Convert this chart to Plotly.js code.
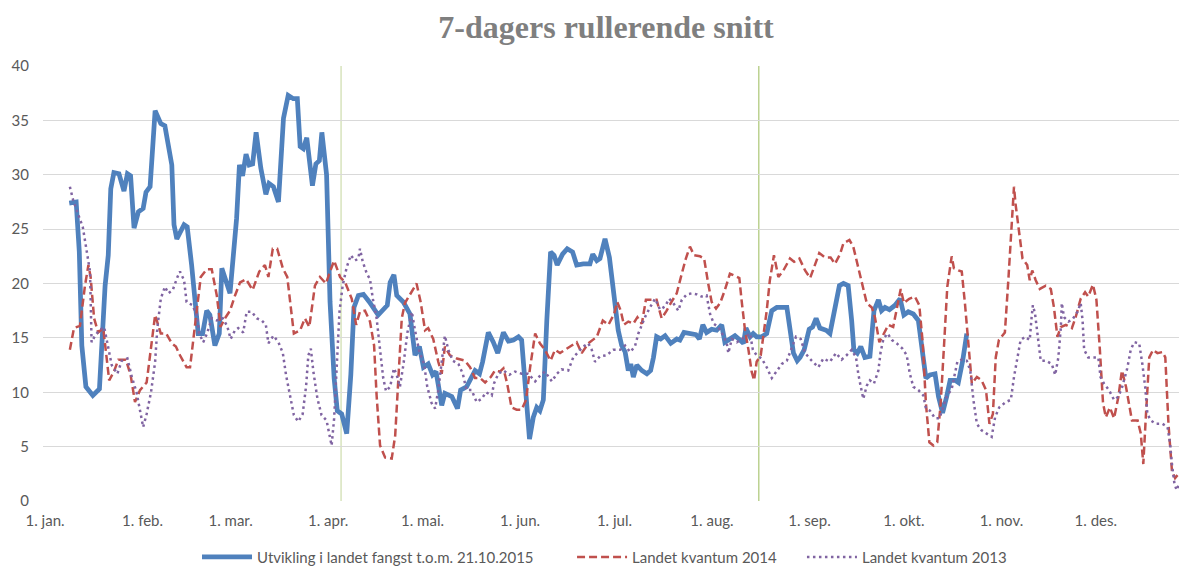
<!DOCTYPE html>
<html>
<head>
<meta charset="utf-8">
<script src="https://cdn.plot.ly/plotly-3.0.1.min.js"></script>
<style>html,body{margin:0;padding:0;background:#fff;}#chart{width:1179px;height:568px;}</style>
</head>
<body>
<div id="chart"></div>
<script>
// x values are day-of-year (0 = 1. jan.)
const monthTickDays = [0,31,59,90,120,151,181,212,243,273,304,334];
const monthTickLabels = ["1. jan.","1. feb.","1. mar.","1. apr.","1. mai.","1. jun.","1. jul.","1. aug.","1. sep.","1. okt.","1. nov.","1. des."];
const markerDays = [94.1, 226.9];
const seriesNames = ["Utvikling i landet fangst t.o.m. 21.10.2015","Landet kvantum 2014","Landet kvantum 2013"];

const days2015 = [7.7,9.9,10.9,11.7,13.0,15.2,17.3,19.1,20.1,20.9,21.9,23.5,25.1,26.2,27.2,28.3,29.7,31.2,32.1,33.4,35.0,36.8,38.1,40.3,41.0,41.9,44.2,45.2,46.6,48.7,50.1,51.4,52.4,54.0,55.4,56.2,58.8,60.9,61.8,62.8,63.9,64.9,66.0,67.1,68.6,70.2,71.2,72.6,74.2,75.8,77.3,78.9,80.2,81.1,82.1,83.2,85.0,86.1,87.2,88.0,89.5,90.6,91.9,92.9,94.3,95.9,97.2,98.2,99.6,101.2,103.1,105.9,108.8,109.7,110.9,111.8,113.9,116.0,117.6,119.0,120.3,121.8,123.2,124.3,126.1,127.1,129.3,131.1,132.1,134.0,136.7,138.1,139.1,140.9,142.5,143.9,145.7,147.3,148.9,150.5,151.5,152.6,154.0,155.2,156.3,157.3,158.4,159.5,160.7,161.8,162.8,164.5,166.0,167.7,169.0,171.1,173.2,174.1,175.4,176.4,178.0,179.4,180.6,182.2,183.3,184.4,185.4,186.2,187.0,188.1,189.7,191.3,192.5,193.4,194.4,195.7,197.1,198.9,200.8,201.8,203.1,205.0,206.9,208.0,209.1,210.3,211.9,213.5,215.1,216.1,217.7,219.3,220.9,222.0,222.8,224.1,225.1,226.2,227.8,229.4,231.0,232.6,235.8,237.9,239.1,240.0,241.3,242.9,244.0,245.1,246.3,248.3,249.5,251.1,252.5,253.8,255.3,256.4,257.1,258.2,259.3,260.6,262.2,263.5,264.9,265.9,267.0,268.4,270.2,271.8,273.0,274.4,276.0,277.6,278.7,280.0,281.3,282.9,284.0,285.3,286.6,287.7,289.3,290.3,291.7,293.0];
const values2015 = [27.4,27.5,22.9,14.3,10.5,9.7,10.3,19.8,22.6,28.7,30.2,30.1,28.5,30.1,29.9,25.1,26.6,26.9,28.4,28.9,35.9,34.7,34.5,30.9,25.4,24.1,25.4,25.2,21.7,15.4,15.4,17.5,17.1,14.3,15.4,21.4,19.1,26.0,30.9,29.9,31.9,30.9,31.0,33.9,30.6,28.2,29.2,28.9,27.5,35.2,37.3,37.0,37.0,32.6,32.4,33.4,29.0,31.0,31.3,33.9,30.0,18.3,11.3,8.3,8.0,6.2,11.6,17.8,18.9,19.0,18.3,17.1,18.0,20.1,20.8,18.9,18.3,17.2,13.4,14.2,12.3,12.6,11.6,11.9,8.8,9.9,9.6,8.5,10.2,10.5,12.0,11.7,12.8,15.5,14.6,13.6,15.5,14.7,14.8,15.1,14.8,10.5,5.7,7.7,8.6,8.3,9.3,16.6,22.9,22.6,21.7,22.7,23.2,22.9,21.7,21.8,21.8,22.7,22.1,22.3,24.1,22.4,19.1,15.7,14.3,13.7,12.0,12.6,11.4,12.5,12.0,11.7,12.0,13.2,15.1,14.9,15.2,14.5,14.9,14.8,15.5,15.4,15.3,14.9,16.2,15.5,15.8,15.7,16.2,14.6,14.9,15.2,14.8,14.5,15.9,15.1,15.4,15.1,15.1,15.4,17.5,17.8,17.8,13.6,12.9,13.2,13.9,15.8,16.0,16.8,15.9,15.7,15.4,17.5,19.8,20.0,19.8,16.6,13.9,13.6,14.2,13.2,13.3,17.5,18.5,17.5,17.8,17.6,18.0,18.6,17.1,17.4,17.2,16.6,14.5,11.3,11.6,11.7,9.6,8.1,9.6,11.1,11.1,10.9,12.9,15.4];

const days2014 = [7.9,9.2,11.1,12.7,13.8,14.5,15.6,16.9,18.5,20.4,21.9,23.3,25.7,27.2,28.6,30.2,32.3,35.0,36.8,38.5,40.3,41.6,42.9,45.0,46.1,47.7,49.5,51.4,53.0,54.6,55.8,57.2,58.8,60.4,62.0,63.9,66.0,68.1,69.9,71.0,72.4,73.8,75.6,77.0,78.4,79.1,81.1,82.6,84.0,85.8,87.4,89.3,90.6,91.9,93.8,95.4,97.5,98.9,100.1,101.7,103.3,104.6,105.4,106.5,108.1,110.2,111.3,112.3,113.4,114.4,116.6,118.1,119.4,120.8,121.8,123.4,125.0,126.1,127.1,128.7,130.9,133.5,135.1,136.7,138.3,139.9,141.7,143.0,144.6,145.7,146.9,148.3,149.9,151.5,152.9,154.2,155.8,157.3,158.9,160.7,162.1,163.7,165.8,169.0,170.6,172.7,175.4,177.3,179.1,180.9,181.9,183.0,184.0,185.4,187.0,188.3,189.7,191.0,192.8,194.4,196.0,197.6,198.9,200.8,202.4,203.7,205.0,206.3,208.2,209.5,210.8,211.9,213.3,214.6,216.1,217.7,219.3,220.7,221.4,222.5,223.6,224.6,225.4,226.2,227.5,228.5,229.4,230.4,231.7,233.1,234.7,236.8,238.1,239.8,241.6,243.2,244.4,246.1,247.9,249.7,251.1,252.7,253.8,255.7,256.9,258.5,259.9,261.2,262.8,263.8,265.2,266.7,268.1,269.6,270.7,272.0,273.0,274.7,276.5,277.9,279.0,280.0,281.1,282.4,283.6,284.7,285.8,286.8,288.2,288.9,290.3,291.4,292.4,293.5,294.6,296.2,297.7,299.1,300.2,301.3,302.2,303.2,305.1,306.2,307.5,308.0,308.5,309.6,310.7,312.2,313.0,313.8,314.9,316.2,318.1,319.7,320.7,321.8,322.9,324.5,326.4,327.6,329.2,330.6,331.6,333.1,334.2,335.3,336.3,337.2,338.5,339.8,341.2,342.3,343.6,345.5,347.3,348.3,349.1,349.9,351.0,352.2,353.6,355.2,356.1,357.1,358.2,359.2,360.3];
const values2014 = [13.9,15.9,16.1,19.8,21.7,20.6,16.8,15.5,15.9,11.1,11.9,13.0,13.0,11.6,9.1,10.2,10.9,17.1,15.4,15.4,14.5,14.2,13.4,12.3,12.3,16.2,20.6,21.3,21.3,18.9,16.0,16.8,17.5,18.9,20.1,20.4,19.4,21.1,21.7,20.6,23.2,23.2,21.4,20.6,16.8,15.4,15.7,16.8,16.0,19.8,20.6,20.0,21.1,22.1,20.6,20.1,18.6,16.2,17.4,17.5,16.5,14.3,9.7,5.1,4.0,3.9,6.0,11.3,16.8,18.2,19.2,20.0,18.3,15.7,15.9,14.9,12.8,11.7,14.2,13.4,13.1,12.9,12.3,11.3,11.3,10.9,11.4,12.0,11.9,12.2,10.8,8.6,8.4,8.4,9.3,12.3,15.4,14.5,13.9,12.9,13.9,13.6,14.0,14.6,13.6,14.5,15.1,16.6,16.2,17.2,18.3,17.5,16.2,16.5,16.3,16.9,16.3,18.5,18.5,18.5,16.8,17.5,18.2,19.1,20.9,22.3,23.4,22.6,22.5,22.3,20.0,18.3,17.7,18.2,19.4,20.9,20.7,20.5,18.5,15.7,13.9,11.9,11.1,12.8,13.4,15.4,17.5,20.3,22.6,20.6,21.2,22.3,22.0,22.3,21.2,20.5,21.5,22.8,22.4,22.4,21.8,22.7,23.7,24.0,23.4,21.5,19.8,18.2,17.8,16.9,14.6,15.4,16.2,16.0,17.5,19.5,18.2,18.6,18.8,18.0,14.5,9.0,5.4,5.1,5.4,9.0,14.5,19.7,22.5,21.4,21.2,21.1,18.2,14.5,10.8,11.4,11.1,10.2,7.1,8.0,13.2,14.8,15.5,20.3,26.4,28.9,27.3,24.6,22.3,21.7,20.3,21.2,20.3,19.5,19.8,19.5,17.8,15.1,16.0,16.2,15.9,16.9,18.6,19.2,18.8,19.9,18.5,13.9,9.0,7.7,8.6,7.6,9.6,12.0,10.5,7.4,7.4,6.2,3.4,7.7,13.2,13.9,13.6,13.7,13.2,7.1,2.8,2.1,2.5];

const days2013 = [7.9,9.0,10.6,12.0,13.3,14.3,14.5,14.8,15.9,17.3,18.8,20.1,21.2,23.0,24.4,26.2,27.6,29.1,30.4,31.2,32.3,33.7,35.0,35.7,36.8,38.1,39.2,40.6,42.1,42.9,44.2,45.0,46.9,48.2,49.0,50.3,51.6,53.0,54.6,56.5,57.9,59.0,60.4,61.4,63.0,64.1,65.7,67.3,68.9,70.2,71.0,72.6,74.2,75.6,76.6,77.9,79.1,80.5,81.9,83.0,83.7,84.5,85.3,86.6,87.9,89.5,90.4,91.1,91.9,92.7,93.6,94.6,95.9,97.2,98.5,99.6,100.1,101.0,102.3,103.3,104.2,105.4,106.5,107.5,108.4,109.7,110.9,111.8,112.8,113.9,115.2,116.6,117.6,119.0,120.5,121.5,122.9,124.0,125.0,126.4,127.1,128.2,129.6,131.4,132.8,134.0,135.6,137.2,138.8,140.2,142.0,142.7,144.1,145.7,147.6,149.4,151.5,153.6,155.8,157.3,158.9,161.1,162.7,164.2,166.3,167.9,169.5,171.1,172.7,173.8,174.8,176.4,178.5,180.6,182.8,184.4,186.0,187.5,188.6,189.7,190.7,192.3,193.9,195.5,197.1,198.4,199.7,201.3,202.4,204.0,205.6,207.2,208.7,210.3,211.4,212.6,214.0,215.6,216.7,217.2,218.3,219.9,221.5,223.0,224.1,225.0,226.2,227.8,229.4,231.0,232.6,234.2,235.8,237.3,238.7,240.2,241.6,243.7,245.8,247.4,249.5,251.4,253.2,254.8,256.4,257.8,258.5,259.3,260.1,261.2,262.2,263.5,264.9,265.6,266.5,267.8,269.2,270.7,272.6,273.9,274.9,276.0,277.6,279.2,280.0,281.3,282.9,284.3,285.3,286.6,288.2,289.3,290.0,291.4,293.0,294.1,295.1,296.2,297.7,299.3,300.9,302.0,303.3,305.4,307.0,308.0,309.1,310.1,311.5,313.0,313.6,314.0,314.7,315.4,316.5,318.1,320.0,321.1,322.1,322.9,323.2,323.9,325.3,326.6,328.2,329.2,329.8,330.3,331.6,333.4,334.8,335.5,336.6,338.2,339.8,341.2,342.4,344.0,345.1,346.2,347.8,348.8,349.7,350.4,351.5,353.1,355.2,356.8,357.6,358.2,359.0,359.7,360.3];
const values2013 = [28.9,27.6,26.3,25.2,22.9,21.1,18.6,14.6,15.2,15.7,16.0,14.0,12.5,11.7,12.9,13.1,11.4,10.0,8.0,6.8,8.0,10.0,12.8,15.9,18.6,19.7,19.1,19.4,20.6,21.1,20.3,18.3,18.0,17.1,15.4,14.6,15.5,16.8,16.6,16.8,16.1,14.9,15.7,15.9,15.5,17.4,17.4,16.8,16.6,16.2,14.5,15.2,14.6,13.6,11.6,9.7,7.9,7.3,8.0,10.6,13.4,14.0,11.9,9.4,7.9,7.4,6.0,5.1,7.6,12.8,17.4,19.8,21.5,22.6,22.1,22.3,23.2,22.0,20.9,20.4,18.6,16.8,14.0,11.3,10.1,10.5,12.2,11.6,10.5,12.5,15.5,17.4,15.7,13.7,12.6,10.5,9.0,8.5,10.2,13.2,15.2,13.9,12.9,12.6,11.7,10.2,10.2,9.1,9.4,10.0,9.7,10.8,11.7,12.0,11.6,11.9,11.7,11.7,11.0,11.5,11.9,11.0,11.7,12.1,12.0,13.2,13.7,14.2,14.5,13.9,12.8,13.3,13.4,13.9,13.9,14.3,13.7,14.2,15.4,16.2,16.9,17.8,18.6,17.6,17.9,18.6,18.2,17.5,18.5,19.0,19.1,19.0,18.8,18.9,17.2,16.3,16.0,15.2,14.5,13.6,14.9,14.6,14.9,15.2,15.4,13.9,13.4,13.1,12.3,11.3,12.0,12.6,12.9,14.0,15.1,14.9,13.6,12.9,12.3,13.1,12.8,13.6,13.0,13.4,13.9,13.2,11.7,10.5,9.4,10.6,11.1,10.8,12.0,13.7,14.9,15.4,14.8,14.5,14.0,13.4,11.7,10.5,10.2,9.7,8.5,8.3,7.6,7.6,8.5,9.6,10.3,12.0,12.8,13.0,12.9,12.0,9.3,7.1,6.5,6.2,5.9,7.7,8.6,9.1,9.3,11.4,13.2,14.8,15.1,14.8,16.9,18.0,17.2,15.4,12.9,12.9,12.6,11.6,13.2,16.0,18.2,16.9,16.5,16.7,17.4,18.2,16.6,13.9,13.2,13.2,13.2,11.4,10.8,10.2,9.3,9.6,10.5,12.2,13.9,14.6,14.5,12.6,10.5,8.0,7.4,7.1,7.1,6.8,5.3,3.4,1.6,1.0,1.4];

const traces = [
  {x: days2015, y: values2015, name: seriesNames[0], type: 'scatter', mode: 'lines', legend: 'legend',
   line: {color: '#4f81bd', width: 4.75, shape: 'linear'}},
  {x: days2014, y: values2014, name: seriesNames[1], type: 'scatter', mode: 'lines', legend: 'legend2',
   line: {color: '#c0504d', width: 2.5, dash: '8px,4px'}},
  {x: days2013, y: values2013, name: seriesNames[2], type: 'scatter', mode: 'lines', legend: 'legend3',
   line: {color: '#8064a2', width: 2.5, dash: '2.5px,3.5px'}}
];

const shapes = markerDays.map((d, i) => ({
  type: 'line', xref: 'x', yref: 'paper', x0: d, x1: d, y0: 0, y1: 1,
  line: {color: i === 0 ? '#c3d69b' : '#9bbb59', width: 1}, layer: 'below'
}));

function legendAt(xFrac) {
  return {orientation: 'h', x: xFrac, xanchor: 'left', xref: 'container',
          y: 0.019, yanchor: 'middle', yref: 'container', itemwidth: 50,
          font: {size: 15, color: '#595959'}, bgcolor: 'rgba(0,0,0,0)'};
}

const layout = {
  width: 1179, height: 568,
  margin: {l: 43, r: 0, t: 66, b: 67, pad: 0},
  paper_bgcolor: '#ffffff', plot_bgcolor: '#ffffff',
  font: {family: 'Lato, "Open Sans", sans-serif', size: 15, color: '#595959'},
  title: {text: '<b>7-dagers rullerende snitt</b>', x: 0.514, xanchor: 'center', xref: 'container',
          y: 0.953, yanchor: 'middle', yref: 'container',
          font: {family: '"Liberation Serif", "DejaVu Serif", serif', size: 32, color: '#7f7f7f'}},
  xaxis: {range: [-0.64, 360.45], tickvals: monthTickDays, ticktext: monthTickLabels,
          showgrid: false, zeroline: false, showline: false, ticks: '', ticklabelstandoff: 9,
          tickfont: {size: 15, color: '#595959'}, fixedrange: true},
  yaxis: {range: [0, 40], dtick: 5, tick0: 0, showgrid: true, gridcolor: '#d9d9d9', gridwidth: 1,
          zeroline: false, showline: false, ticks: '', ticklabelstandoff: 13,
          tickfont: {size: 15, color: '#595959'}, fixedrange: true},
  shapes: shapes,
  showlegend: true,
  legend: legendAt(0.1671),
  legend2: legendAt(0.4852),
  legend3: legendAt(0.6802)
};

Plotly.newPlot('chart', traces, layout, {displayModeBar: false, staticPlot: true});
</script>
</body>
</html>
